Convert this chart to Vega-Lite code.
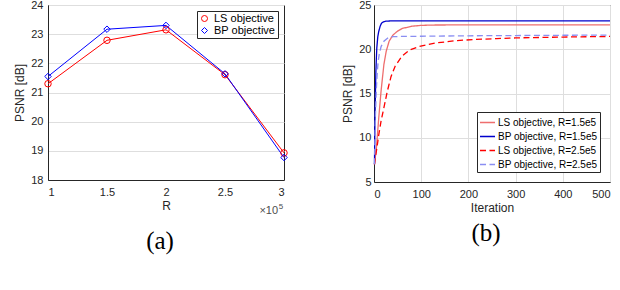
{
  "$schema": "https://vega.github.io/schema/vega-lite/v6.json",
  "background": "white",
  "padding": {"left": 13, "top": -2, "right": 5, "bottom": 0},
  "spacing": 51,
  "resolve": {"scale": {"color": "independent", "shape": "independent", "strokeDash": "independent"}},
  "config": {
    "view": {"stroke": "#262626", "strokeWidth": 1},
    "font": "Liberation Sans",
    "axis": {
      "labelFont": "Liberation Sans", "labelFontSize": 11, "labelColor": "#262626", "labelOverlap": false,
      "titleFont": "Liberation Sans", "titleFontSize": 12, "titleFontWeight": "normal", "titleColor": "#262626",
      "domainColor": "#262626", "gridColor": "#dedede", "ticks": false, "labelPadding": 5
    },
    "legend": {
      "labelFont": "Liberation Sans", "labelFontSize": 11, "labelColor": "#000000",
      "strokeColor": "#262626", "fillColor": "white", "padding": 3, "rowPadding": 2, "title": null
    },
    "title": {"font": "Liberation Serif", "fontSize": 25, "fontWeight": "normal", "color": "#000000"}
  },
  "datasets": {
    "a": [
      {"R": 1, "PSNR": 21.3, "series": "LS objective"},
      {"R": 1.5, "PSNR": 22.79, "series": "LS objective"},
      {"R": 2, "PSNR": 23.15, "series": "LS objective"},
      {"R": 2.5, "PSNR": 21.61, "series": "LS objective"},
      {"R": 3, "PSNR": 18.93, "series": "LS objective"},
      {"R": 1, "PSNR": 21.55, "series": "BP objective"},
      {"R": 1.5, "PSNR": 23.17, "series": "BP objective"},
      {"R": 2, "PSNR": 23.3, "series": "BP objective"},
      {"R": 2.5, "PSNR": 21.64, "series": "BP objective"},
      {"R": 3, "PSNR": 18.77, "series": "BP objective"}
    ],
    "b": [
      {"iter": 1, "psnr": 7.0, "series": "LS objective, R=1.5e5"},
      {"iter": 5, "psnr": 8.8, "series": "LS objective, R=1.5e5"},
      {"iter": 10, "psnr": 12.2, "series": "LS objective, R=1.5e5"},
      {"iter": 15, "psnr": 15.3, "series": "LS objective, R=1.5e5"},
      {"iter": 21, "psnr": 18.3, "series": "LS objective, R=1.5e5"},
      {"iter": 26, "psnr": 19.8, "series": "LS objective, R=1.5e5"},
      {"iter": 32, "psnr": 20.9, "series": "LS objective, R=1.5e5"},
      {"iter": 40, "psnr": 21.6, "series": "LS objective, R=1.5e5"},
      {"iter": 50, "psnr": 22.05, "series": "LS objective, R=1.5e5"},
      {"iter": 60, "psnr": 22.35, "series": "LS objective, R=1.5e5"},
      {"iter": 80, "psnr": 22.6, "series": "LS objective, R=1.5e5"},
      {"iter": 100, "psnr": 22.7, "series": "LS objective, R=1.5e5"},
      {"iter": 130, "psnr": 22.74, "series": "LS objective, R=1.5e5"},
      {"iter": 200, "psnr": 22.75, "series": "LS objective, R=1.5e5"},
      {"iter": 300, "psnr": 22.75, "series": "LS objective, R=1.5e5"},
      {"iter": 400, "psnr": 22.75, "series": "LS objective, R=1.5e5"},
      {"iter": 500, "psnr": 22.75, "series": "LS objective, R=1.5e5"},
      {"iter": 1, "psnr": 7.0, "series": "BP objective, R=1.5e5"},
      {"iter": 2, "psnr": 12.0, "series": "BP objective, R=1.5e5"},
      {"iter": 3, "psnr": 15.0, "series": "BP objective, R=1.5e5"},
      {"iter": 4, "psnr": 17.5, "series": "BP objective, R=1.5e5"},
      {"iter": 5, "psnr": 19.0, "series": "BP objective, R=1.5e5"},
      {"iter": 6, "psnr": 20.2, "series": "BP objective, R=1.5e5"},
      {"iter": 8, "psnr": 21.4, "series": "BP objective, R=1.5e5"},
      {"iter": 10, "psnr": 22.0, "series": "BP objective, R=1.5e5"},
      {"iter": 13, "psnr": 22.6, "series": "BP objective, R=1.5e5"},
      {"iter": 16, "psnr": 22.95, "series": "BP objective, R=1.5e5"},
      {"iter": 20, "psnr": 23.1, "series": "BP objective, R=1.5e5"},
      {"iter": 25, "psnr": 23.17, "series": "BP objective, R=1.5e5"},
      {"iter": 35, "psnr": 23.2, "series": "BP objective, R=1.5e5"},
      {"iter": 100, "psnr": 23.2, "series": "BP objective, R=1.5e5"},
      {"iter": 200, "psnr": 23.2, "series": "BP objective, R=1.5e5"},
      {"iter": 300, "psnr": 23.2, "series": "BP objective, R=1.5e5"},
      {"iter": 400, "psnr": 23.2, "series": "BP objective, R=1.5e5"},
      {"iter": 500, "psnr": 23.2, "series": "BP objective, R=1.5e5"},
      {"iter": 1, "psnr": 7.0, "series": "LS objective, R=2.5e5"},
      {"iter": 3, "psnr": 7.8, "series": "LS objective, R=2.5e5"},
      {"iter": 6, "psnr": 8.8, "series": "LS objective, R=2.5e5"},
      {"iter": 10, "psnr": 10.3, "series": "LS objective, R=2.5e5"},
      {"iter": 15, "psnr": 11.9, "series": "LS objective, R=2.5e5"},
      {"iter": 21, "psnr": 13.4, "series": "LS objective, R=2.5e5"},
      {"iter": 28, "psnr": 15.2, "series": "LS objective, R=2.5e5"},
      {"iter": 36, "psnr": 16.9, "series": "LS objective, R=2.5e5"},
      {"iter": 45, "psnr": 18.1, "series": "LS objective, R=2.5e5"},
      {"iter": 59, "psnr": 19.2, "series": "LS objective, R=2.5e5"},
      {"iter": 75, "psnr": 19.9, "series": "LS objective, R=2.5e5"},
      {"iter": 95, "psnr": 20.3, "series": "LS objective, R=2.5e5"},
      {"iter": 130, "psnr": 20.7, "series": "LS objective, R=2.5e5"},
      {"iter": 170, "psnr": 20.95, "series": "LS objective, R=2.5e5"},
      {"iter": 210, "psnr": 21.1, "series": "LS objective, R=2.5e5"},
      {"iter": 260, "psnr": 21.2, "series": "LS objective, R=2.5e5"},
      {"iter": 300, "psnr": 21.28, "series": "LS objective, R=2.5e5"},
      {"iter": 400, "psnr": 21.38, "series": "LS objective, R=2.5e5"},
      {"iter": 500, "psnr": 21.45, "series": "LS objective, R=2.5e5"},
      {"iter": 1, "psnr": 7.0, "series": "BP objective, R=2.5e5"},
      {"iter": 2, "psnr": 10.0, "series": "BP objective, R=2.5e5"},
      {"iter": 3, "psnr": 12.5, "series": "BP objective, R=2.5e5"},
      {"iter": 5, "psnr": 15.5, "series": "BP objective, R=2.5e5"},
      {"iter": 7, "psnr": 17.5, "series": "BP objective, R=2.5e5"},
      {"iter": 9, "psnr": 18.7, "series": "BP objective, R=2.5e5"},
      {"iter": 11, "psnr": 19.4, "series": "BP objective, R=2.5e5"},
      {"iter": 15, "psnr": 20.3, "series": "BP objective, R=2.5e5"},
      {"iter": 21, "psnr": 20.9, "series": "BP objective, R=2.5e5"},
      {"iter": 30, "psnr": 21.3, "series": "BP objective, R=2.5e5"},
      {"iter": 40, "psnr": 21.42, "series": "BP objective, R=2.5e5"},
      {"iter": 60, "psnr": 21.45, "series": "BP objective, R=2.5e5"},
      {"iter": 100, "psnr": 21.47, "series": "BP objective, R=2.5e5"},
      {"iter": 200, "psnr": 21.52, "series": "BP objective, R=2.5e5"},
      {"iter": 300, "psnr": 21.55, "series": "BP objective, R=2.5e5"},
      {"iter": 400, "psnr": 21.58, "series": "BP objective, R=2.5e5"},
      {"iter": 500, "psnr": 21.6, "series": "BP objective, R=2.5e5"}
    ]
  },
  "hconcat": [
    {
      "width": 236,
      "height": 175,
      "title": {"text": "(a)", "orient": "bottom", "anchor": "middle", "offset": 13, "dx": -6},
      "layer": [
        {
          "data": {"name": "a"},
          "mark": {"type": "line", "strokeWidth": 1},
          "encoding": {
            "x": {"field": "R", "type": "quantitative", "scale": {"domain": [1, 3], "nice": false, "zero": false},
                  "axis": {"values": [1, 1.5, 2, 2.5, 3], "format": "~g", "title": "R", "grid": false, "labelPadding": 6, "titlePadding": 3}},
            "y": {"field": "PSNR", "type": "quantitative", "scale": {"domain": [18, 24], "nice": false, "zero": false},
                  "axis": {"values": [18, 19, 20, 21, 22, 23, 24], "title": "PSNR [dB]", "grid": true, "titlePadding": 4}},
            "color": {"field": "series", "type": "nominal",
                      "scale": {"domain": ["LS objective", "BP objective"], "range": ["#ff0000", "#0000ff"]},
                      "legend": {"orient": "top-right", "offset": 6, "padding": 2, "rowPadding": 0, "symbolSize": 36, "symbolStrokeWidth": 1, "symbolFillColor": "white"}}
          }
        },
        {
          "data": {"name": "a"},
          "mark": {"type": "point", "filled": false, "strokeWidth": 1, "size": 42, "opacity": 1},
          "encoding": {
            "x": {"field": "R", "type": "quantitative", "scale": {"domain": [1, 3], "nice": false, "zero": false},
                  "axis": {"values": [1, 1.5, 2, 2.5, 3], "format": "~g", "title": "R", "grid": false, "labelPadding": 6, "titlePadding": 3}},
            "y": {"field": "PSNR", "type": "quantitative", "scale": {"domain": [18, 24], "nice": false, "zero": false},
                  "axis": {"values": [18, 19, 20, 21, 22, 23, 24], "title": "PSNR [dB]", "grid": true, "titlePadding": 4}},
            "color": {"field": "series", "type": "nominal"},
            "shape": {"field": "series", "type": "nominal",
                      "scale": {"domain": ["LS objective", "BP objective"], "range": ["circle", "diamond"]}}
          }
        },
        {
          "data": {"values": [{"t": "×10", "e": "5"}]},
          "mark": {"type": "text", "align": "right", "baseline": "middle", "fontSize": 11, "color": "#4d4d4d"},
          "encoding": {
            "x": {"datum": 2.95, "type": "quantitative", "scale": {"domain": [1, 3], "nice": false, "zero": false},
                  "axis": {"values": [1, 1.5, 2, 2.5, 3], "format": "~g", "title": "R", "grid": false, "labelPadding": 6, "titlePadding": 3}},
            "y": {"datum": 16.93, "type": "quantitative", "scale": {"domain": [18, 24], "nice": false, "zero": false},
                  "axis": {"values": [18, 19, 20, 21, 22, 23, 24], "title": "PSNR [dB]", "grid": true, "titlePadding": 4}},
            "text": {"field": "t"}
          }
        },
        {
          "data": {"values": [{"t": "×10", "e": "5"}]},
          "mark": {"type": "text", "align": "left", "baseline": "middle", "fontSize": 8, "color": "#4d4d4d"},
          "encoding": {
            "x": {"datum": 2.955, "type": "quantitative", "scale": {"domain": [1, 3], "nice": false, "zero": false},
                  "axis": {"values": [1, 1.5, 2, 2.5, 3], "format": "~g", "title": "R", "grid": false, "labelPadding": 6, "titlePadding": 3}},
            "y": {"datum": 17.08, "type": "quantitative", "scale": {"domain": [18, 24], "nice": false, "zero": false},
                  "axis": {"values": [18, 19, 20, 21, 22, 23, 24], "title": "PSNR [dB]", "grid": true, "titlePadding": 4}},
            "text": {"field": "e"}
          }
        }
      ]
    },
    {
      "width": 236,
      "height": 177,
      "title": {"text": "(b)", "orient": "bottom", "anchor": "middle", "offset": 8, "dx": -6},
      "data": {"name": "b"},
      "mark": {"type": "line", "strokeWidth": 1.3},
      "encoding": {
        "x": {"field": "iter", "type": "quantitative", "scale": {"domain": [0, 500], "nice": false},
              "axis": {"values": [0, 100, 200, 300, 400, 500], "title": "Iteration", "grid": true, "labelPadding": 6, "titlePadding": 3}},
        "y": {"field": "psnr", "type": "quantitative", "scale": {"domain": [5, 25], "nice": false, "zero": false},
              "axis": {"values": [5, 10, 15, 20, 25], "title": "PSNR [dB]", "grid": true, "labelPadding": 3, "titlePadding": 4}},
        "color": {"field": "series", "type": "nominal",
                  "scale": {"domain": ["LS objective, R=1.5e5", "BP objective, R=1.5e5", "LS objective, R=2.5e5", "BP objective, R=2.5e5"],
                            "range": ["#ee6e6e", "#0000cc", "#ff0000", "#8a8ef2"]},
                  "legend": {"orient": "bottom-right", "offset": 10, "padding": 2, "rowPadding": 0, "labelFontSize": 10, "symbolType": "stroke", "symbolSize": 225, "symbolStrokeWidth": 1.5, "labelOffset": 2}},
        "strokeDash": {"field": "series", "type": "nominal",
                       "scale": {"domain": ["LS objective, R=1.5e5", "BP objective, R=1.5e5", "LS objective, R=2.5e5", "BP objective, R=2.5e5"],
                                 "range": [[1, 0], [1, 0], [6, 3.5], [6, 3.5]]}}
      }
    }
  ]
}
